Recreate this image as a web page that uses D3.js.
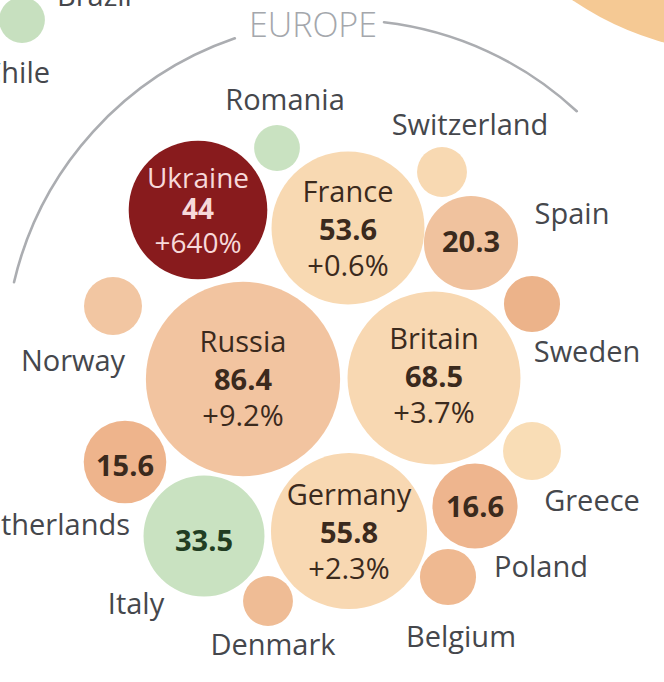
<!DOCTYPE html>
<html><head><meta charset="utf-8">
<script src="https://cdn.jsdelivr.net/npm/d3@7/dist/d3.min.js"></script>
<style>
html,body{margin:0;padding:0;background:#fff;}
svg{display:block;}
text{font-family:"Open Sans","Noto Sans",sans-serif;}
</style></head>
<body><svg id="chart" width="664" height="682"></svg>
<script>
// ---- data (military spending, $bn, and change) ----
const countries = ["Russia","Britain","Germany","France","Ukraine","Italy","Spain","Poland","Netherlands",
  "Greece","Norway","Sweden","Belgium","Denmark","Switzerland","Romania","Chile","United States"];
const spending = [86.4,68.5,55.8,53.6,44,33.5,20.3,16.6,15.6,7.7,7.7,7.2,7.2,5.7,5.7,4.8,4.8,877];
const changes = ["+9.2%","+3.7%","+2.3%","+0.6%","+640%",null,null,null,null,null,null,null,null,null,null,null,null,null];
const showName = [true,true,true,true,true,false,false,false,false,false,false,false,false,false,false,false,false,false];
const showValue = [true,true,true,true,true,true,true,true,true,false,false,false,false,false,false,false,false,false];
const outsideLabels = ["Romania","Switzerland","Spain","Norway","Sweden","Netherlands","Greece","Poland","Italy","Denmark","Belgium","Chile","Brazil"];
const regionLabel = "EUROPE";

// ---- layout (positions & styles, kept apart from the data) ----
const centers = {
  "Russia":[243,379],"Britain":[434,378],"Germany":[349,531],"France":[348,228],"Ukraine":[198,210],
  "Italy":[204,536],"Spain":[471,243],"Poland":[475,506],"Netherlands":[125,462],"Greece":[532,451],
  "Norway":[113,306],"Sweden":[532,304],"Belgium":[448,577],"Denmark":[268,601],"Switzerland":[442,172],
  "Romania":[277,148],"Chile":[22,20],"United States":[746,-256]
};
const fills = {
  "Russia":"#f2c4a0","Britain":"#f8d8b2","Germany":"#f8d8b2","France":"#f8d9b2","Ukraine":"#881b1d",
  "Italy":"#c9e2c1","Spain":"#f0c29e","Poland":"#eeb58e","Netherlands":"#eeb48c","Greece":"#f9ddb6",
  "Norway":"#f2c6a2","Sweden":"#ecb38a","Belgium":"#efb991","Denmark":"#efbc95","Switzerland":"#f8d9b2",
  "Romania":"#c9e2c1","Chile":"#c7e0bf","United States":"#f5c994"
};
const numY = {"Russia":390,"Britain":387,"Germany":543,"France":240,"Ukraine":219,
  "Italy":551,"Spain":252,"Poland":517,"Netherlands":476};
const lineGap = {"Ukraine":[31,34]};
const labelPos = {
  "Romania":[285,110,"middle"],"Switzerland":[470,135,"middle"],"Spain":[572,224,"middle"],
  "Norway":[73,371,"middle"],"Sweden":[587,362,"middle"],"Netherlands":[130,535,"end"],
  "Greece":[592,511,"middle"],"Poland":[541,577,"middle"],"Italy":[136,614,"middle"],
  "Denmark":[273,655,"middle"],"Belgium":[461,647,"middle"],"Chile":[50,83,"end"],"Brazil":[57,6,"start"]
};

const svg = d3.select("#chart");
const r = d3.scaleSqrt().domain([0, 100]).range([0, 104.5]);

const data = countries.map((c,i)=>({name:c,value:spending[i],change:changes[i],showName:showName[i],showValue:showValue[i]}));

// region arc
const arcC = [345,360], arcR = 340;
function arcPath(a0,a1){ const p=d3.path(); p.arc(arcC[0],arcC[1],arcR,a0-Math.PI/2,a1-Math.PI/2); return p.toString(); }
svg.append("path").attr("d",arcPath(-1.34,-0.33)).attr("fill","none").attr("stroke","#abadb1").attr("stroke-width",2.6).attr("stroke-linecap","round");
svg.append("path").attr("d",arcPath(0.115,0.75)).attr("fill","none").attr("stroke","#abadb1").attr("stroke-width",2.6).attr("stroke-linecap","round");
svg.append("text").attr("x",313).attr("y",37).attr("text-anchor","middle").attr("font-size",34).attr("font-weight",300)
  .attr("fill","#a4a7ac").text(regionLabel);

// bubbles
svg.selectAll("circle.b").data(data).join("circle").attr("class","b")
  .attr("cx",d=>centers[d.name][0]).attr("cy",d=>centers[d.name][1])
  .attr("r",d=>r(d.value)).attr("fill",d=>fills[d.name]);

// bubble text
const inner = data.filter(d=>d.showValue);
inner.forEach(d=>{
  const cx = centers[d.name][0], y = numY[d.name];
  const gap = lineGap[d.name] || [38,36];
  const isUkr = d.name==="Ukraine", isIt = d.name==="Italy";
  const col = isUkr ? "#f7d9da" : (isIt ? "#213d22" : "#3b2a1d");
  const fs = isUkr ? 28 : 29;
  if(d.showName) svg.append("text").attr("x",cx).attr("y",y-gap[0]).attr("text-anchor","middle")
    .attr("font-size",fs).attr("fill",col).text(d.name);
  svg.append("text").attr("x",cx).attr("y",y).attr("text-anchor","middle")
    .attr("font-size",fs).attr("font-weight",700).attr("fill",col).text(d3.format("~")(d.value));
  if(d.change) svg.append("text").attr("x",cx).attr("y",y+gap[1]).attr("text-anchor","middle")
    .attr("font-size",fs).attr("fill",col).text(d.change);
});

// outside labels
svg.selectAll("text.lab").data(outsideLabels).join("text").attr("class","lab")
  .attr("x",d=>labelPos[d][0]).attr("y",d=>labelPos[d][1]).attr("text-anchor",d=>labelPos[d][2])
  .attr("font-size",29).attr("fill","#45474c").text(d=>d);
</script></body></html>
